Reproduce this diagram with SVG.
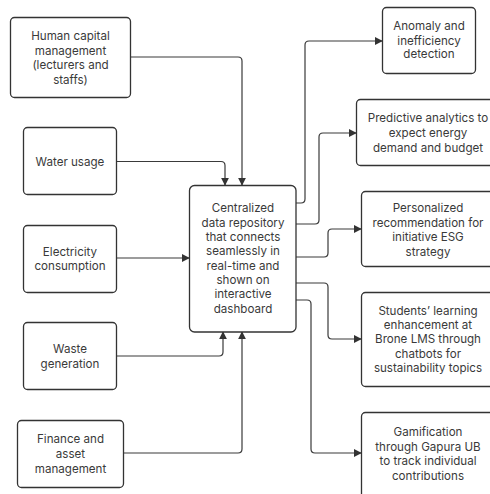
<svg xmlns="http://www.w3.org/2000/svg" width="490" height="494" viewBox="0 0 490 494">
<style>
.box{fill:#fff;stroke:#333;stroke-width:1.3}
.t{font-family:Inter,"Open Sans",sans-serif;font-size:11.6px;fill:#3a3a3a;text-anchor:middle}
.c{fill:none;stroke:#3a3a3a;stroke-width:1.2;stroke-linejoin:round}
</style>
<defs>
<marker id="ah" viewBox="0 0 10 10" refX="9" refY="5" markerWidth="8" markerHeight="8" markerUnits="userSpaceOnUse" orient="auto">
<path d="M0,0 L10,5 L0,10 z" fill="#333"/>
</marker>
</defs>
<rect width="490" height="494" fill="#fff"/>
<g id="connectors">
<path class="c" marker-end="url(#ah)" d="M131,57 H238 Q242,57 242,61 V185"/>
<path class="c" marker-end="url(#ah)" d="M117,161.5 H221 Q225,161.5 225,165.5 V185"/>
<path class="c" marker-end="url(#ah)" d="M117,258 H189"/>
<path class="c" marker-end="url(#ah)" d="M117,356 H219 Q223,356 223,352 V332"/>
<path class="c" marker-end="url(#ah)" d="M124,453 H238 Q242,453 242,449 V332"/>
<path class="c" marker-end="url(#ah)" d="M296,203 H301 Q305,203 305,199 V45 Q305,41 309,41 H382"/>
<path class="c" marker-end="url(#ah)" d="M296,224 H315 Q319,224 319,220 V137 Q319,133 323,133 H356"/>
<path class="c" marker-end="url(#ah)" d="M296,257 H324 Q328,257 328,253 V233 Q328,229 332,229 H361"/>
<path class="c" marker-end="url(#ah)" d="M296,283 H324 Q328,283 328,287 V335 Q328,339 332,339 H361"/>
<path class="c" marker-end="url(#ah)" d="M296,300 H307 Q311,300 311,304 V449 Q311,453 315,453 H361"/>
</g>
<g id="n-human">
<rect class="box" x="10.5" y="17.5" width="120" height="80" rx="4"/>
<text class="t" x="70.5" y="40">Human capital</text>
<text class="t" x="70.5" y="55">management</text>
<text class="t" x="70.5" y="69">(lecturers and</text>
<text class="t" x="70.5" y="84">staffs)</text>
</g>
<g id="n-water">
<rect class="box" x="23.5" y="127.5" width="93" height="67" rx="4"/>
<text class="t" x="70" y="166">Water usage</text>
</g>
<g id="n-electricity">
<rect class="box" x="23.5" y="225.5" width="93" height="67" rx="4"/>
<text class="t" x="70" y="256">Electricity</text>
<text class="t" x="70" y="270">consumption</text>
</g>
<g id="n-waste">
<rect class="box" x="23.5" y="322.5" width="93" height="67" rx="4"/>
<text class="t" x="70" y="353">Waste</text>
<text class="t" x="70" y="368">generation</text>
</g>
<g id="n-finance">
<rect class="box" x="17.5" y="420.5" width="106" height="67" rx="4"/>
<text class="t" x="70.5" y="443">Finance and</text>
<text class="t" x="70.5" y="458">asset</text>
<text class="t" x="70.5" y="473">management</text>
</g>
<g id="n-central">
<rect class="box" x="189.5" y="185.5" width="106.5" height="146.5" rx="5"/>
<text class="t" x="243" y="212">Centralized</text>
<text class="t" x="243" y="227">data repository</text>
<text class="t" x="243" y="241">that connects</text>
<text class="t" x="243" y="255">seamlessly in</text>
<text class="t" x="243" y="270">real-time and</text>
<text class="t" x="243" y="284">shown on</text>
<text class="t" x="243" y="298">interactive</text>
<text class="t" x="243" y="313">dashboard</text>
</g>
<g id="n-anomaly">
<rect class="box" x="382.5" y="7.5" width="93" height="66" rx="4"/>
<text class="t" x="429" y="30">Anomaly and</text>
<text class="t" x="429" y="45">inefficiency</text>
<text class="t" x="429" y="58">detection</text>
</g>
<g id="n-predictive">
<rect class="box" x="356.5" y="99.5" width="140" height="66" rx="4"/>
<text class="t" x="428" y="122">Predictive analytics to</text>
<text class="t" x="428" y="137">expect energy</text>
<text class="t" x="428" y="152">demand and budget</text>
</g>
<g id="n-personalized">
<rect class="box" x="361.5" y="191.5" width="135" height="75" rx="4"/>
<text class="t" x="428" y="212">Personalized</text>
<text class="t" x="428" y="227">recommendation for</text>
<text class="t" x="428" y="241">initiative ESG</text>
<text class="t" x="428" y="256">strategy</text>
</g>
<g id="n-students">
<rect class="box" x="361.5" y="292.5" width="135" height="94" rx="4"/>
<text class="t" x="428" y="315">Students’ learning</text>
<text class="t" x="428" y="329">enhancement at</text>
<text class="t" x="428" y="343">Brone LMS through</text>
<text class="t" x="428" y="358">chatbots for</text>
<text class="t" x="428" y="372">sustainability topics</text>
</g>
<g id="n-gamification">
<rect class="box" x="361.5" y="412.5" width="135" height="90" rx="4"/>
<text class="t" x="428" y="436">Gamification</text>
<text class="t" x="428" y="451">through Gapura UB</text>
<text class="t" x="428" y="465">to track individual</text>
<text class="t" x="428" y="480">contributions</text>
</g>
</svg>
